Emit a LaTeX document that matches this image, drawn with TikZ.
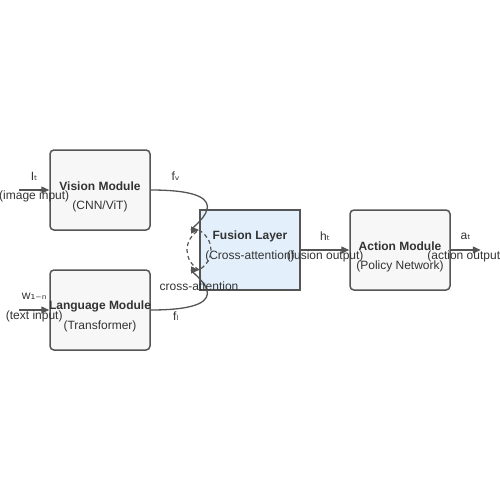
\documentclass[tikz,border=0pt]{standalone}
\usepackage{fontspec}
\setmainfont{Liberation Sans}
\newfontfamily\subfont{DejaVu Sans}
\usetikzlibrary{arrows.meta, positioning, calc}
\newcommand{\flowArrow}{{Triangle[length=8pt, width=7pt]}}
\newcommand{\lowidx}[1]{{\subfont #1}}
\definecolor{boxgray}{HTML}{F7F7F7}
\definecolor{fusionblue}{HTML}{E3F0FC}
\definecolor{edgegray}{HTML}{555555}
\definecolor{textgray}{HTML}{333333}

\begin{document}
\begin{tikzpicture}[x=1pt, y=-1pt, font=\fontsize{12}{14}\selectfont, text=textgray,
	module/.style={draw=edgegray, fill=boxgray, line width=1.5pt, rounded corners=4pt, minimum width=100pt, minimum height=80pt, inner sep=0pt},
	fusionbox/.style={module, fill=fusionblue, rounded corners=0pt, line width=2pt},
	flow/.style={draw=edgegray, line width=1.3pt},
	title/.style={font=\fontsize{12}{14}\selectfont\bfseries}]

	\useasboundingbox (0,0) rectangle (500,500);

	\node[module]		(vision)	at (100,190) {};
	\node[module]		(language)	at (100,310) {};
	\node[fusionbox]	(fusion)	at (250,250) {};
	\node[module]		(action)	at (400,250) {};

	\foreach \name/\shift/\head/\body in {vision/0/Vision Module/{(CNN/ViT)}, language/0/Language Module/(Transformer), fusion/-10/Fusion Layer/(Cross-attention), action/0/Action Module/(Policy Network)} {
		\node[title] (\name-title) at ($(\name)+(0,-4+\shift)$) {\head};
		\node (\name-sub) at ($(\name)+(0,16+\shift)$) {\body};
	}

	% inputs
	\foreach \name/\sym/\desc in {vision/I\lowidx{ₜ}/image input, language/w\lowidx{₁₋ₙ}/text input} {
		\coordinate (\name-in) at ($(\name.west)+(-30,0)$);
		\draw[flow, -\flowArrow]	(\name-in) -- (\name.west);
		\node (\name-sym) at ($(\name-in)+(15,-14)$) {\sym};
		\node (\name-desc) at ($(\name-in)+(15,6)$) {(\desc)};
	}

	% cross-attention points
	\coordinate (ca-top) at ($(fusion.west)+(0,-20)$);
	\coordinate (ca-bot) at ($(fusion.west)+(0,20)$);

	\draw[flow, -\flowArrow]	(vision.east) .. controls +(100,0) and +(-12,0) .. (ca-top);
		\node (fv) at ($(vision.east)+(25,-14)$) {f\lowidx{ᵥ}};
	\draw[flow, -\flowArrow]	(language.east) .. controls +(100,0) and +(-12,0) .. (ca-bot);
		\node (fl) at ($(language.east)+(25,6)$) {f\lowidx{ₗ}};

	\draw[flow, dashed, line width=1.2pt, dash pattern=on 4pt off 3pt]	(ca-top) .. controls +(16,10) and +(16,-10) .. (ca-bot) .. controls +(-16,-10) and +(-16,10) .. (ca-top);
		\node (ca-label) at ($(ca-bot)+(0,16)$) {cross-attention};

	% outputs
	\draw[flow, -\flowArrow]	(fusion.east) -- (action.west);
		\node (h) at ($(fusion.east)!0.5!(action.west)+(0,-14)$) {h\lowidx{ₜ}};
		\node (h-desc) at ($(fusion.east)!0.5!(action.west)+(0,6)$) {(fusion output)};
	\coordinate (act-out) at ($(action.east)+(30,0)$);
	\draw[flow, -\flowArrow]	(action.east) -- (act-out);
		\node (a) at ($(action.east)+(15,-14)$) {a\lowidx{ₜ}};
		\node (a-desc) at ($(action.east)+(15,6)$) {(action output)};

\end{tikzpicture}
\end{document}
